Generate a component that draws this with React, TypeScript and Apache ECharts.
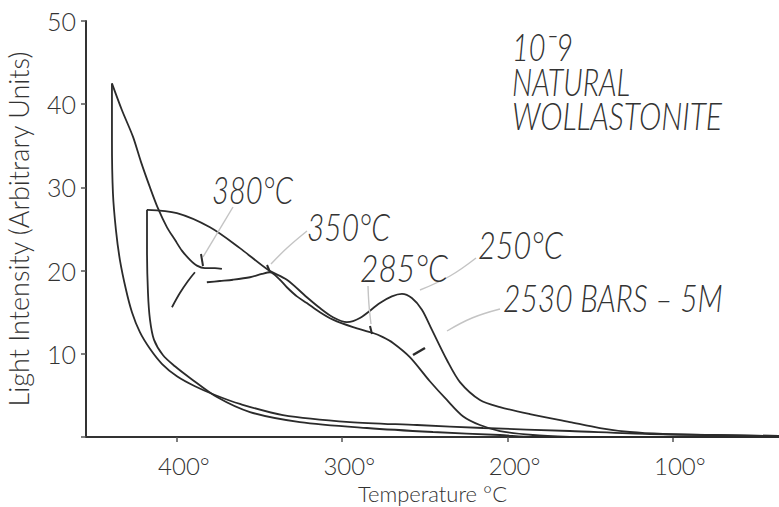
import React, { useEffect, useRef } from "react";
import * as echarts from "echarts";

// Tick values
const xTicks = [400, 300, 200, 100];
const yTicks = [10, 20, 30, 40, 50];

// Curves: [temperature °C, light intensity]
const peakLeft: [number, number][] = [
  [439.3, 42.5], [439.3, 35.7], [438.7, 29.3], [436.9, 24.9], [434.5, 21.3], [430.8, 17.7],
  [427.2, 15.0], [422.4, 12.6], [416.3, 10.6], [409.1, 8.8], [400.0, 7.3], [389.1, 6.1],
  [377.0, 5.05], [361.9, 3.97], [335.9, 2.64], [295.4, 1.8], [254.8, 1.44], [214.9, 1.08],
  [162.3, 0.72], [113.9, 0.36], [35.8, 0.12],
];
const peakRight: [number, number][] = [
  [439.3, 42.5], [433.3, 39.3], [426.6, 36.1], [421.8, 33.1], [416.3, 30.0], [411.5, 27.5],
  [406.0, 25.2], [401.2, 23.7], [397.0, 22.4], [392.1, 21.3], [387.9, 20.6], [383.1, 20.3],
  [377.0, 20.3], [372.8, 20.2],
];
const stub380: [number, number][] = [
  [403.0, 15.6], [398.2, 17.3], [393.3, 18.75], [389.1, 19.8],
];
const drop27: [number, number][] = [
  [418.1, 27.3], [418.1, 22.5], [417.5, 17.3], [416.3, 14.1], [413.9, 11.7], [408.5, 9.86],
  [401.2, 8.5], [392.1, 7.1], [375.8, 4.8], [355.8, 3.0], [325.6, 1.8], [285.1, 1.08],
  [245.1, 0.6], [204.6, 0.24], [184.7, 0.0], [35.8, 0.0],
];
const upper: [number, number][] = [
  [418.1, 27.3], [400.0, 26.9], [380.0, 25.2], [361.9, 22.7], [344.9, 20.1], [333.5, 18.9],
  [321.4, 16.8], [313.5, 15.5], [305.6, 14.4], [297.2, 13.8], [289.3, 14.3], [277.2, 16.1],
  [270.0, 16.9], [263.9, 17.2], [257.9, 16.7], [251.8, 15.3], [245.8, 12.9], [236.7, 9.25],
  [228.8, 6.6], [216.7, 4.45], [204.6, 3.6], [186.5, 2.76], [162.3, 1.8], [144.1, 1.08],
  [126.0, 0.6], [106.0, 0.36], [75.8, 0.24], [35.8, 0.12],
];
const lower: [number, number][] = [
  [381.9, 18.6], [374.0, 18.75], [366.1, 18.9], [355.8, 19.2], [348.6, 19.6], [343.7, 19.8],
  [337.7, 18.9], [333.5, 18.0], [327.4, 16.9], [321.4, 16.1], [313.5, 15.0], [305.6, 14.1],
  [293.5, 13.2], [281.4, 12.5], [275.4, 12.0], [269.3, 11.3], [259.1, 9.6], [247.0, 6.7],
  [236.7, 4.45], [227.0, 2.5], [216.7, 1.44], [204.6, 0.72], [184.7, 0.24], [162.3, 0.0],
];

const curves = [peakLeft, peakRight, stub380, drop27, upper, lower];

const FONT = 'Lato, "DejaVu Sans", sans-serif';
const ANN_FONT = 'italic 300 37px Lato, "DejaVu Sans", sans-serif';
const INK = "#2b2b2b";
const LEADER = "#c4c4c4";

// annotation layout: text, left x, center y, target width (px)
const annotations = [
  { text: "10¯9", x: 512, y: 47, w: 61 },
  { text: "NATURAL", x: 512, y: 82, w: 118 },
  { text: "WOLLASTONITE", x: 512, y: 116, w: 210 },
  { text: "380°C", x: 212, y: 190, w: 81 },
  { text: "350°C", x: 307, y: 227, w: 83 },
  { text: "285°C", x: 360, y: 268, w: 88 },
  { text: "250°C", x: 478, y: 244, w: 85 },
  { text: "2530 BARS – 5M", x: 503, y: 298, w: 220 },
];

function measure(text: string, font: string): number {
  const c = document.createElement("canvas");
  const ctx = c.getContext("2d");
  if (!ctx) return text.length * 20;
  ctx.font = font;
  return ctx.measureText(text).width;
}

export default function App() {
  const ref = useRef<HTMLDivElement>(null);
  useEffect(() => {
    if (!ref.current) return;
    const chart = echarts.init(ref.current, null, { renderer: "svg" });

    const annGraphics: any[] = annotations.map((a) => ({
      type: "text",
      x: a.x,
      y: a.y,
      scaleX: a.w / measure(a.text, ANN_FONT),
      style: {
        text: a.text,
        font: ANN_FONT,
        fill: "#333",
        textAlign: "left",
        textVerticalAlign: "middle",
      },
      z: 10,
    }));

    const leader = (pts: number[][], color = LEADER, width = 1.4) => ({
      type: "polyline",
      shape: { points: pts, smooth: 0.4 },
      style: { stroke: color, lineWidth: width, fill: "none" },
      z: 5,
    });

    const leaders: any[] = [
      leader([[233, 207], [218, 232], [203, 257]]),
      leader([[201, 254], [203, 266]], INK, 2),
      leader([[307, 231], [287, 248], [271, 264]]),
      leader([[267, 265], [270, 272]], INK, 2),
      leader([[368, 286], [369, 305], [371, 324]]),
      leader([[370, 326], [372, 334]], INK, 2),
      leader([[476, 258], [450, 276], [420, 290]]),
      leader([[500, 309], [472, 318], [447, 331]]),
      leader([[413, 355], [425, 348]], INK, 2.5),
    ];

    const option: any = {
      animation: false,
      backgroundColor: "#ffffff",
      grid: {
        left: 86,
        right: 0,
        top: 21,
        bottom: 70,
        containLabel: false,
        outerBoundsMode: "none",
      },
      xAxis: {
        type: "value",
        inverse: true,
        min: 35.8,
        max: 455,
        axisLine: { show: true, onZero: false, lineStyle: { color: "#333", width: 2 } },
        axisTick: { show: true, customValues: xTicks, length: 5, lineStyle: { color: "#555", width: 1.5 } },
        axisLabel: {
          customValues: xTicks,
          formatter: (v: number) => `${v}°`,
          fontFamily: FONT,
          fontSize: 24,
          lineHeight: 20,
          fontWeight: 300,
          color: "#333",
          margin: 18,
          padding: [0, 0, 0, 14],
        },
        splitLine: { show: false },
        name: "Temperature °C",
        nameLocation: "middle",
        nameGap: 45,
        nameMoveOverlap: false,
        nameTextStyle: { fontFamily: FONT, fontSize: 22, lineHeight: 22, fontWeight: 300, color: "#333" },
      },
      yAxis: {
        type: "value",
        min: 0,
        max: 50,
        interval: 10,
        axisLine: { show: true, lineStyle: { color: "#333", width: 2 } },
        axisTick: { show: true, length: 5, lineStyle: { color: "#555", width: 1.5 } },
        axisLabel: {
          formatter: (v: number) => (yTicks.includes(v) ? String(v) : ""),
          fontFamily: FONT,
          fontSize: 25,
          fontWeight: 300,
          color: "#333",
          margin: 10,
        },
        splitLine: { show: false },
        name: "Light Intensity (Arbitrary Units)",
        nameLocation: "middle",
        nameGap: 54,
        nameTextStyle: { fontFamily: FONT, fontSize: 27, lineHeight: 27, fontWeight: 300, color: "#333" },
      },
      series: curves.map((d) => ({
        type: "line",
        data: d,
        showSymbol: false,
        symbol: "none",
        smooth: 0.3,
        silent: true,
        lineStyle: { color: INK, width: 1.8 },
        z: 3,
      })),
      graphic: [...leaders, ...annGraphics],
    };

    chart.setOption(option);
    return () => chart.dispose();
  }, []);

  return (
    <div
      ref={ref}
      style={{ position: "fixed", left: 0, top: 0, width: 779, height: 507, background: "#fff" }}
    />
  );
}
